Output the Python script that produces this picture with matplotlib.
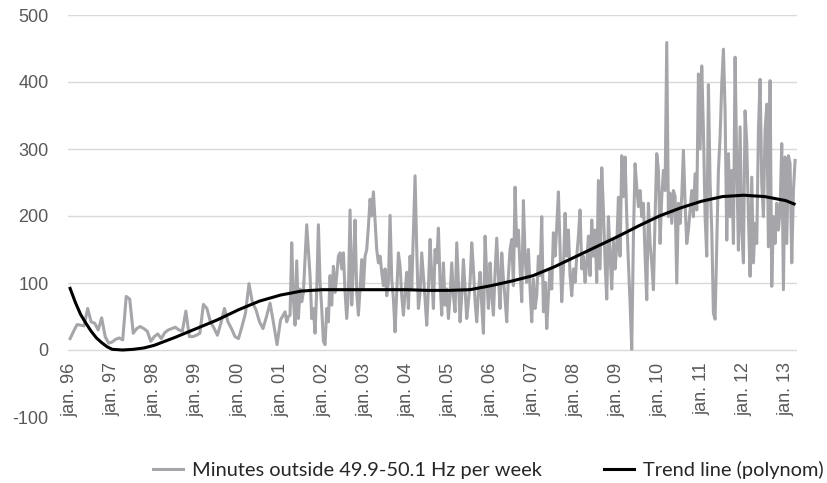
import numpy as np
import matplotlib.pyplot as plt

plt.rcParams['font.family'] = ['Liberation Sans', 'DejaVu Sans']
plt.rcParams['axes.unicode_minus'] = False

# monthly readings 1996 - 2000
early_minutes = [17, 28, 38, 37, 36, 62, 42, 40, 30, 48, 20, 10,
                 12, 16, 18, 15, 80, 76, 25, 32, 35, 32, 28, 13,
                 20, 24, 17, 26, 30, 32, 34, 30, 28, 58, 20, 20,
                 22, 25, 68, 62, 42, 33, 22, 40, 62, 42, 32, 20,
                 17, 35, 55, 99, 70, 60, 42, 32, 50, 70, 40, 8,
                 45]

# denser readings (about every two weeks) 2001 - 2013
dense_minutes = [
    57, 42, 50, 52, 160, 76, 37, 133, 47, 91,
    72, 86, 135, 187, 150, 111, 47, 62, 25, 91,
    187, 101, 62, 13, 8, 62, 42, 111, 67, 125,
    86, 111, 140, 145, 121, 145, 86, 47, 86, 209,
    67, 125, 194, 86, 52, 91, 135, 91, 140, 150,
    184, 225, 200, 236, 194, 150, 130, 140, 116, 96,
    121, 81, 101, 201, 106, 76, 27, 86, 145, 125,
    81, 52, 86, 116, 62, 140, 91, 174, 260, 150,
    62, 86, 145, 111, 76, 37, 91, 165, 111, 62,
    150, 130, 182, 101, 52, 130, 67, 91, 47, 81,
    130, 81, 57, 160, 101, 42, 81, 135, 91, 47,
    72, 101, 160, 121, 72, 42, 86, 116, 67, 25,
    170, 111, 62, 130, 81, 52, 116, 167, 111, 62,
    145, 106, 76, 42, 111, 150,
    165, 96, 243, 155, 179, 121, 72, 223, 140, 101,
    150, 91, 42, 106, 62, 81, 140, 111, 199, 57,
    101, 32, 81, 121, 91, 175, 140, 184, 236, 150,
    72, 121, 204, 140, 179, 111, 81, 121, 101, 140,
    170, 209, 121, 140, 101, 130, 170, 111, 194, 140,
    179, 101, 253, 121, 272, 209, 130, 76, 199, 140,
    91, 165, 121, 155, 228, 140,
    290, 229, 288, 199, 130, 70, 1, 169, 278, 243,
    214, 238, 199, 219, 140, 75, 219, 159, 130, 90,
    199, 293, 268, 159, 229, 268, 238, 459, 199, 234,
    189, 238, 229, 100, 219, 189, 229, 298, 219, 159,
    179, 209, 238, 199, 263, 209, 412, 300, 424, 328,
    199, 140, 396, 250, 179, 55,
    46, 159, 268, 318, 397, 449, 357, 164, 293, 199,
    268, 159, 437, 278, 149, 333, 179, 130, 357, 308,
    199, 110, 258, 130, 189, 159, 328, 404, 248, 199,
    328, 367, 154, 402, 95, 199, 159, 219, 179, 209,
    308, 90, 288, 159, 290, 278, 130, 238, 283]

early_years = 1996 + np.arange(len(early_minutes)) / 12
dense_years = 2001.107 + np.arange(len(dense_minutes)) * 0.0396
years = np.concatenate([early_years, dense_years])
minutes = np.array(early_minutes + dense_minutes)

trend_years = [1996.0, 1996.125, 1996.25, 1996.375, 1996.5, 1996.625, 1996.75,
               1996.875, 1997.0, 1997.25, 1997.5, 1997.75, 1998.0, 1998.5,
               1999.0, 1999.5, 2000.0, 2000.5, 2001.0, 2001.5, 2002.0, 2002.5,
               2003.0, 2003.5, 2004.0, 2004.5, 2005.0, 2005.5, 2006.0, 2006.5,
               2007.0, 2007.5, 2008.0, 2008.5, 2009.0, 2009.5, 2010.0, 2010.5,
               2011.0, 2011.5, 2012.0, 2012.5, 2013.0, 2013.2]
trend_values = [92, 71, 53, 40, 28, 18, 11, 5, 1, 0, 1, 3, 7, 19,
                32, 45, 60, 73, 82, 88, 90, 90, 90, 90, 90, 89, 89, 90,
                96, 103, 111, 124, 139, 154, 169, 185, 200, 212, 222, 229,
                231, 229, 223, 218]

tick_years = list(range(1996, 2014))
tick_labels = ['jan. %02d' % (y % 100) for y in tick_years]

fig = plt.figure(figsize=(8.27, 4.83), dpi=100)
ax = fig.add_axes([68 / 827, 1 - 417 / 483, (797 - 68) / 827, (417 - 15) / 483])

# x labels sit just under the zero line
for s in ['top', 'right', 'left']:
    ax.spines[s].set_visible(False)
ax.spines['bottom'].set_position(('data', 0))
ax.spines['bottom'].set_visible(False)

ax.plot(years, minutes, color='#a6a6aa', lw=2.2,
        label='Minutes outside 49.9-50.1 Hz per week')
ax.plot(trend_years, trend_values, color='black', lw=2.2,
        label='Trend line (polynom)')

ax.set_xlim(1995.95, 2013.27)
ax.set_ylim(-100, 500)
ax.set_yticks(range(-100, 501, 100))
ax.set_xticks(tick_years)
ax.set_xticklabels(tick_labels, rotation=90)

ax.grid(axis='y', color='#d9d9d9', lw=1)
ax.set_axisbelow(True)
ax.yaxis.get_gridlines()[0].set_visible(False)

ax.tick_params(axis='y', length=0, labelsize=13, colors='#595959', pad=14)
ax.tick_params(axis='x', length=0, labelsize=13, colors='#595959', pad=9)

fig.legend(loc='center left', bbox_to_anchor=(0.185, 0.028), ncol=2,
           frameon=False, prop={'family': ['Lato', 'DejaVu Sans'], 'size': 14.4},
           handlelength=1.5, handletextpad=0.45, columnspacing=3.1,
           borderpad=0, borderaxespad=0, labelcolor='#262626')

fig.savefig('out.png', dpi=100)
